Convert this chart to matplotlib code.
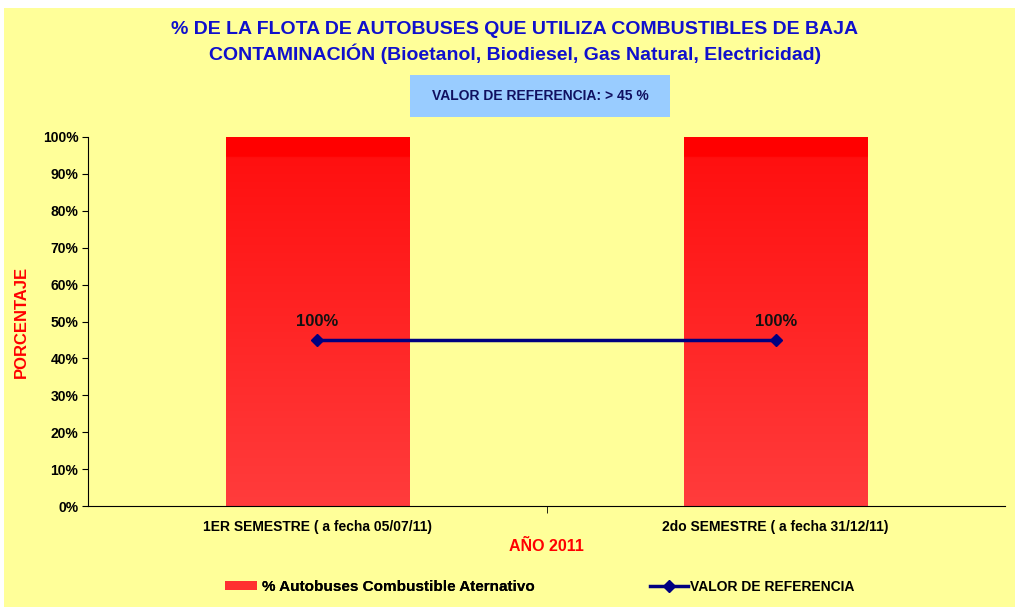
import matplotlib.pyplot as plt
import numpy as np
from matplotlib.patches import Patch, Rectangle
from matplotlib.lines import Line2D
from matplotlib.colors import LinearSegmentedColormap

##########################################
#Data
categories = ['1ER SEMESTRE ( a fecha 05/07/11)', '2do SEMESTRE ( a fecha 31/12/11)']
bar_values = [100, 100]
ref_values = [45, 45]
yticks = np.arange(0, 101, 10)
bar_name = '% Autobuses Combustible Aternativo'
ref_name = 'VALOR DE REFERENCIA'

bg = '#FFFF99'
navy = '#000080'
font = 'Liberation Sans'

##########################################
fig = plt.figure(figsize=[10.15, 6.07], dpi=100)
fig.patch.set_facecolor('white')
fig.add_artist(Rectangle((0.004, 0), 0.996, 0.986, transform=fig.transFigure, facecolor=bg, edgecolor='none', zorder=-10))

ax = fig.add_axes([88/1015, 1-506/607, (1005-88)/1015, (506-137)/607])
ax.set_facecolor(bg)

x = np.arange(len(categories))
bars = ax.bar(x, bar_values, width=0.4, color='#FF2020', zorder=2)

#Gradient fill like the original
grad_cmap = LinearSegmentedColormap.from_list('redgrad', [(0, '#FF3C3C'), (0.945, '#FF1010'), (0.95, '#FF0000'), (1, '#FF0000')])
grad = np.linspace(0, 1, 256)[:, None]
for b in bars:
	im = ax.imshow(grad, cmap=grad_cmap, aspect='auto', origin='lower',
		extent=[b.get_x(), b.get_x()+b.get_width(), 0, b.get_height()], zorder=2)
	im.set_clip_path(b)

ax.plot(x, ref_values, color=navy, lw=2.5, marker='D', ms=6, zorder=4)

for xi, v in zip(x, bar_values):
	ax.text(xi, v/2, '%d%%' % v, ha='center', va='center', fontsize=12, fontweight='bold', color='#111111', family=font, zorder=5)

ax.set_xlim(-0.5, 1.5)
ax.set_ylim(0, 100)
ax.set_yticks(yticks)
ax.set_yticklabels(['%d%%' % t for t in yticks], fontsize=10, fontweight='bold', family=font)
ax.set_xticks(x)
ax.set_xticklabels(categories, fontsize=10, fontweight='bold', family=font)
ax.tick_params(axis='x', length=0, pad=10)
ax.set_xticks([0.5], minor=True)
ax.tick_params(axis='x', which='minor', length=5, direction='out')
ax.tick_params(axis='y', length=4, direction='out', pad=3)

for s in ['top', 'right']:
	ax.spines[s].set_visible(False)
ax.spines['left'].set_color('black')
ax.spines['bottom'].set_color('black')

ax.set_ylabel('PORCENTAJE', color='red', fontsize=12, fontweight='bold', family=font)
ax.yaxis.set_label_coords(-59/917, 0.5)
ax.set_xlabel('AÑO 2011', color='red', fontsize=11.5, fontweight='bold', family=font, labelpad=4)

#Title
fig.text(515/1015, 1-29/607, '% DE LA FLOTA DE AUTOBUSES QUE UTILIZA COMBUSTIBLES DE BAJA', ha='center', va='center',
	fontsize=14, fontweight='bold', color='#1010CC', family=font)
fig.text(515/1015, 1-54/607, 'CONTAMINACIÓN (Bioetanol, Biodiesel, Gas Natural, Electricidad)', ha='center', va='center',
	fontsize=14, fontweight='bold', color='#1010CC', family=font)

#Reference box
fig.add_artist(Rectangle((410/1015, 1-117/607), 260/1015, 42/607, transform=fig.transFigure, facecolor='#99CCFF', edgecolor='none'))
fig.text(540/1015, 1-96/607, 'VALOR DE REFERENCIA: > 45 %', ha='center', va='center', fontsize=10, fontweight='bold',
	color='#101060', family=font)

#Legend (two entries placed separately)
leg1 = fig.legend([Patch(facecolor='#FF3030', edgecolor='none')], [bar_name], loc='center left', bbox_to_anchor=(225/1015, 1-587/607),
	frameon=False, prop={'family': font, 'weight': 'bold', 'size': 11}, handlelength=2.1, handleheight=0.6,
	handletextpad=0.3, borderpad=0, borderaxespad=0)
fig.add_artist(leg1)
fig.legend([Line2D([0], [0], color=navy, lw=2.5, marker='D', ms=6)], [ref_name], loc='center left', bbox_to_anchor=(650/1015, 1-587/607),
	frameon=False, prop={'family': font, 'weight': 'bold', 'size': 10}, handlelength=2.7,
	handletextpad=0.15, borderpad=0, borderaxespad=0)

plt.savefig('out.png', dpi=100)
